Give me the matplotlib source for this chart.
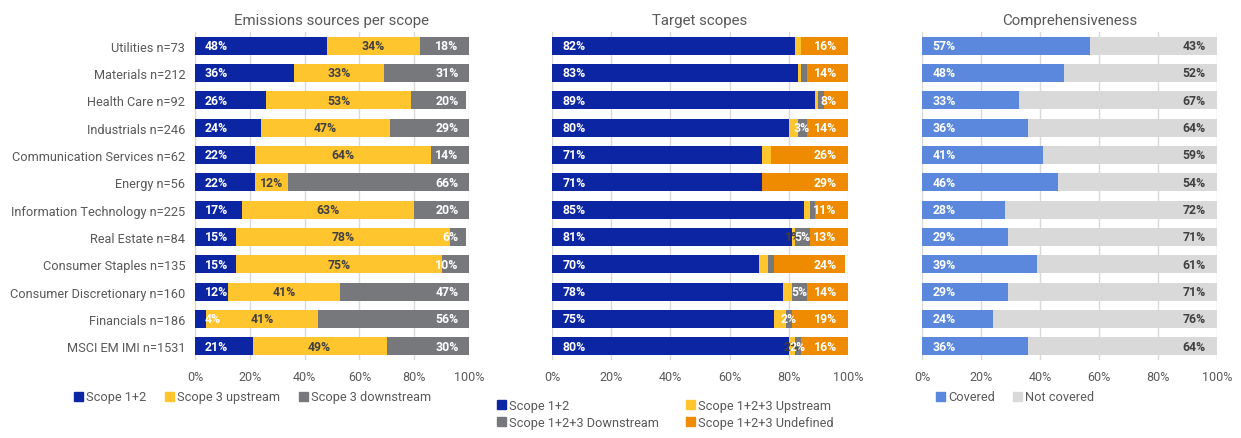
import numpy as np
import matplotlib
matplotlib.use("Agg")
import matplotlib.pyplot as plt
from matplotlib.patches import Patch

plt.rcParams['font.family'] = ['Roboto', 'DejaVu Sans']

# sector rows, top to bottom
sectors = ["Utilities n=73", "Materials n=212", "Health Care n=92", "Industrials n=246",
           "Communication Services n=62", "Energy n=56", "Information Technology n=225",
           "Real Estate n=84", "Consumer Staples n=135", "Consumer Discretionary n=160",
           "Financials n=186", "MSCI EM IMI n=1531"]

# emissions sources per scope (%)
src_s12 = [48, 36, 26, 24, 22, 22, 17, 15, 15, 12, 4, 21]
src_up = [34, 33, 53, 47, 64, 12, 63, 78, 75, 41, 41, 49]
src_down = [18, 31, 20, 29, 14, 66, 20, 6, 10, 47, 56, 30]

# target scopes (%)
tgt_s12 = [82, 83, 89, 80, 71, 71, 85, 81, 70, 78, 75, 80]
tgt_up = [2, 1, 1, 3, 3, 0, 2, 1, 3, 3, 4, 2]
tgt_down = [0, 2, 2, 3, 0, 0, 2, 5, 2, 5, 2, 2]
tgt_undef = [16, 14, 8, 14, 26, 29, 11, 13, 24, 14, 19, 16]
# which of the small segments carry a label
tgt_up_lab = [False, False, False, False, False, False, False, True, False, False, False, True]
tgt_down_lab = [False, False, False, True, False, False, False, True, False, True, True, True]

# comprehensiveness (%)
covered = [57, 48, 33, 36, 41, 46, 28, 29, 39, 29, 24, 36]
not_covered = [43, 52, 67, 64, 59, 54, 72, 71, 61, 71, 76, 64]

BLUE = "#0B25A3"
YELLOW = "#FFC52F"
GREY = "#76787C"
ORANGE = "#EE8B00"
LBLUE = "#5B88DC"
LGREY = "#D9D9D9"
TXT = "#595959"
DARK = "#404040"

fig = plt.figure(figsize=(12.41, 4.39), dpi=100)
bottom, height = 1 - 361 / 439, 328 / 439
ax1 = fig.add_axes([195 / 1241, bottom, 274 / 1241, height])
ax2 = fig.add_axes([552 / 1241, bottom, 296 / 1241, height])
ax3 = fig.add_axes([922 / 1241, bottom, 295 / 1241, height])

y = np.arange(len(sectors))
bh = 0.66


def style(ax, title):
    ax.set_xlim(0, 100)
    ax.set_ylim(len(sectors) - 0.5, -0.5)
    ax.set_xticks(np.arange(0, 101, 20))
    ax.set_xticklabels([f"{t}%" for t in range(0, 101, 20)], color=TXT, fontsize=9)
    ax.tick_params(axis='x', length=0, pad=7)
    ax.tick_params(axis='y', length=0)
    ax.grid(axis='x', color=LGREY, linewidth=1)
    ax.set_axisbelow(True)
    for s in ax.spines.values():
        s.set_visible(False)
    ax.set_title(title, color=TXT, fontsize=10.8, pad=6)


def stack(ax, series, colors):
    left = np.zeros(len(sectors))
    bars = []
    for vals, c in zip(series, colors):
        vals = np.array(vals, dtype=float)
        bars.append(ax.barh(y, vals, left=left, height=bh, color=c, edgecolor='none'))
        left = left + vals
    return bars


def lab(ax, x, yy, v, color, ha='center'):
    ax.text(x, yy, f"{v}%", ha=ha, va='center', color=color, fontsize=8.8, fontweight='bold')


# emissions sources
style(ax1, "Emissions sources per scope")
stack(ax1, [src_s12, src_up, src_down], [BLUE, YELLOW, GREY])
ax1.set_yticks(y)
ax1.set_yticklabels(sectors, color=TXT, fontsize=9.2)
ax1.tick_params(axis='y', pad=7)
for i in range(len(sectors)):
    lab(ax1, 3.6, i, src_s12[i], "white", ha='left')
    lab(ax1, src_s12[i] + src_up[i] / 2, i, src_up[i], DARK)
    lab(ax1, 96.2, i, src_down[i], "white", ha='right')

# target scopes
style(ax2, "Target scopes")
stack(ax2, [tgt_s12, tgt_up, tgt_down, tgt_undef], [BLUE, YELLOW, GREY, ORANGE])
ax2.set_yticks([])
for i in range(len(sectors)):
    lab(ax2, 3.6, i, tgt_s12[i], "white", ha='left')
    lab(ax2, 96.2, i, tgt_undef[i], "white", ha='right')
    if tgt_up_lab[i]:
        lab(ax2, tgt_s12[i] + tgt_up[i] / 2, i, tgt_up[i], DARK)
    if tgt_down_lab[i]:
        lab(ax2, tgt_s12[i] + tgt_up[i] + tgt_down[i] / 2, i, tgt_down[i], "white")

# comprehensiveness
style(ax3, "Comprehensiveness")
stack(ax3, [covered, not_covered], [LBLUE, LGREY])
ax3.set_yticks([])
for i in range(len(sectors)):
    lab(ax3, 3.6, i, covered[i], "white", ha='left')
    lab(ax3, 96.2, i, not_covered[i], DARK, ha='right')

leg_kw = dict(frameon=False, fontsize=9.2, labelcolor=TXT, handlelength=0.7, handleheight=0.7,
              handletextpad=0.25, borderaxespad=0, borderpad=0)

fig.legend(handles=[Patch(color=BLUE, label="Scope 1+2"),
                    Patch(color=YELLOW, label="Scope 3 upstream"),
                    Patch(color=GREY, label="Scope 3 downstream")],
           loc='center left', bbox_to_anchor=(74 / 1241, 1 - 398 / 439), ncol=3,
           columnspacing=1.45, **leg_kw)

fig.legend(handles=[Patch(color=BLUE, label="Scope 1+2"),
                    Patch(color=GREY, label="Scope 1+2+3 Downstream"),
                    Patch(color=YELLOW, label="Scope 1+2+3 Upstream"),
                    Patch(color=ORANGE, label="Scope 1+2+3 Undefined")],
           loc='center left', bbox_to_anchor=(497 / 1241, 1 - 415 / 439), ncol=2,
           columnspacing=2.1, labelspacing=0.3, **leg_kw)

fig.legend(handles=[Patch(color=LBLUE, label="Covered"),
                    Patch(color=LGREY, label="Not covered")],
           loc='center left', bbox_to_anchor=(936 / 1241, 1 - 398 / 439), ncol=2,
           columnspacing=1.4, **leg_kw)

fig.savefig("out.png", dpi=100, facecolor="white")
